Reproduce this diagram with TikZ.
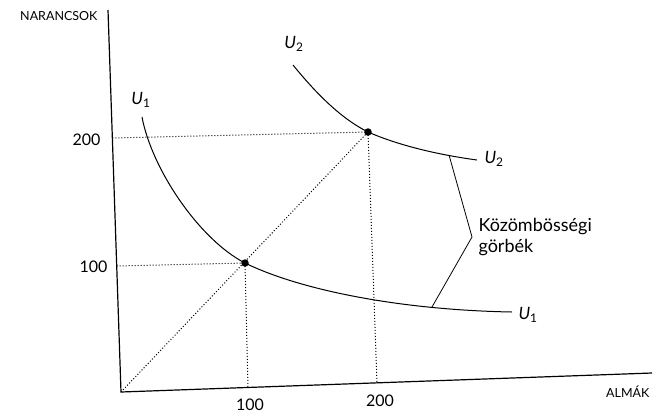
\documentclass[tikz,border=0pt]{standalone}
\usepackage{fontspec}
\setmainfont{Lato}
\usetikzlibrary{positioning}

\begin{document}
\begin{tikzpicture}[x=1pt,y=-1pt,font=\fontsize{16}{18}\selectfont,
      axis/.style={line width=1.2pt},
      guide/.style={dotted,line width=1pt},
      curve/.style={line width=1pt},
      dot/.style={circle,fill,inner sep=0pt,minimum size=7.5pt},
      small/.style={font=\fontsize{12.5}{14}\selectfont},
      ulabel/.style={font=\fontsize{17}{19}\selectfont}]
    \useasboundingbox (0,0) rectangle (653,416);
    % axes
    \coordinate (O) at (121,392);
    \coordinate (ytop) at (108,10);
    \coordinate (xend) at (652,373);
    \draw[axis] (ytop) -- (O) -- (xend);
    \node[small,anchor=east] (ylab) at (101,16) {NARANCSOK};
    \node[small,anchor=east] (xlab) at (653,392) {ALMÁK};
    % optimum points
    \coordinate (A) at (245,263);
    \coordinate (B) at (368,132);
    \coordinate (y100) at (116.7,266);
    \coordinate (y200) at (112.4,138);
    \coordinate (x100) at (248,388);
    \coordinate (x200) at (377,383);
    \foreach \a/\b in {y100/A,y200/B,A/x100,B/x200,O/B}{
      \draw[guide] (\a)--(\b);}
    \node[anchor=east] (t100) at (111,267) {100};
    \node[anchor=east] (t200) at (104,140) {200};
    \node (s100) at (250,405) {100};
    \node (s200) at (380,401) {200};
    % indifference curves
    \draw[curve] (142,117) .. controls (152,170) and (200,240) .. (A)
      .. controls (300,290) and (400,310) .. (512,312);
    \draw[curve] (293,65) .. controls (315,92) and (340,118) .. (B)
      .. controls (400,146) and (440,155) .. (477,160);
    \node[dot] (dA) at (A) {};
    \node[dot] (dB) at (B) {};
    \node[ulabel] (u1a) at (141,100) {\textit{U}\textsubscript{1}};
    \node[ulabel] (u2a) at (294,44) {\textit{U}\textsubscript{2}};
    \node[ulabel,anchor=west] (u2b) at (481,159) {\textit{U}\textsubscript{2}};
    \node[ulabel,anchor=west] (u1b) at (515,315) {\textit{U}\textsubscript{1}};
    % bracket to the curves
    \coordinate (c2) at (449,155);
    \coordinate (brk) at (472,237);
    \coordinate (c1) at (432,307);
    \draw[line width=0.8pt] (c2) -- (brk) -- (c1);
    \node[align=left,anchor=west,font=\fontsize{18}{21}\selectfont,right=3pt of brk] (lbl) {Közömbösségi\\görbék};
  \end{tikzpicture}
\end{document}
